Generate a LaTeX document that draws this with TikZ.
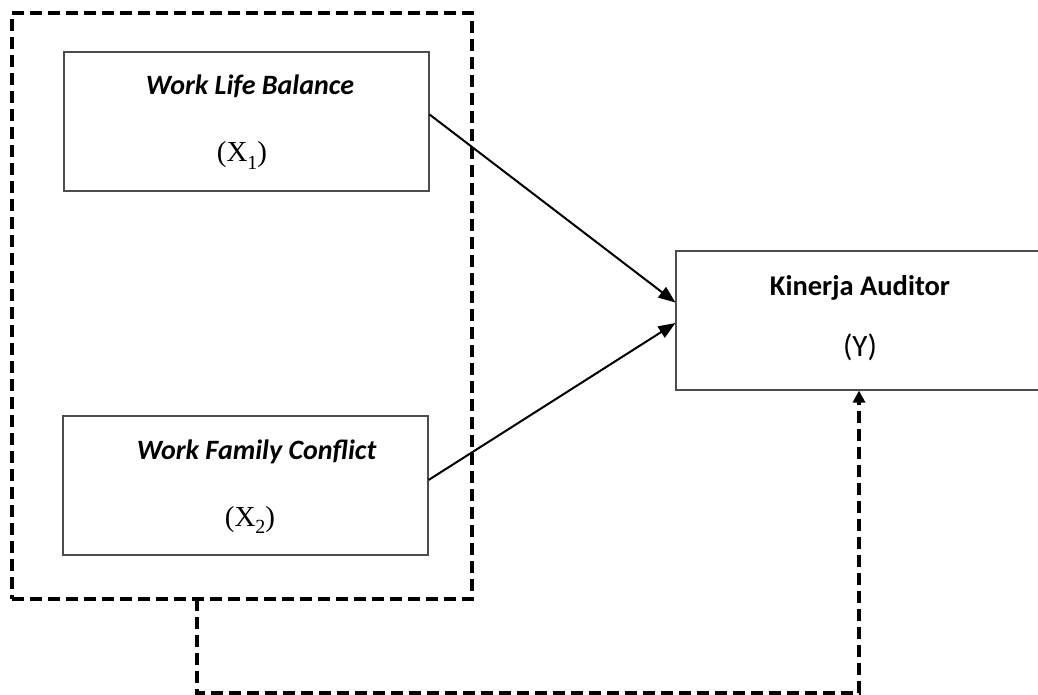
\documentclass[tikz,border=0pt]{standalone}
\usepackage{fontspec}
\setmainfont{Carlito}
\newfontfamily\lmroman{Liberation Serif}
\usetikzlibrary{arrows.meta,calc}
\newcommand{\varlabel}[1]{{\lmroman (X\raisebox{-0.25em}{\fontsize{20}{24}\selectfont #1})}}
\begin{document}
\begin{tikzpicture}[x=1pt,y=-1pt,
  varbox/.style={draw=black!70,line width=1.1pt,rectangle,inner sep=0pt},
  dashline/.style={line width=3.2pt,dash pattern=on 12pt off 6pt},
  solidarrow/.style={line width=2pt,-{Triangle[length=17pt,width=13pt]}},
  dasharrow/.style={dashline,-{Triangle[length=12pt,width=12pt]}},
  lbl/.style={anchor=base,inner sep=0pt,font=\fontsize{28}{32}\selectfont\bfseries\itshape},
  lblb/.style={anchor=base,inner sep=0pt,font=\fontsize{28.5}{32}\selectfont\bfseries},
  lblm/.style={anchor=base,inner sep=0pt,font=\fontsize{29}{34}\selectfont},
  lbly/.style={anchor=base,inner sep=0pt,font=\fontsize{31}{36}\selectfont}]
\useasboundingbox (0,0) rectangle (1038,695);
% outer dashed group
\node[draw,dashline,rectangle,inner sep=0pt,minimum width=460pt,minimum height=586pt] (outer) at (242,306) {};
% boxes
\node[varbox,minimum width=365pt,minimum height=139pt] (x1) at (246.5,121.5) {};
\node[varbox,minimum width=365pt,minimum height=139pt] (x2) at (245.5,485.5) {};
\node[varbox,minimum width=366pt,minimum height=139pt] (y) at (859,320.5) {};
% texts
\node[lbl] (t1) at (250,95) {Work Life Balance};
\node[lblm] (m1) at (242,162) {\varlabel{1}};
\node[lbl] (t2) at (256.5,459) {Work Family Conflict};
\node[lblm] (m2) at (250,526) {\varlabel{2}};
\node[lblb] (t3) at (860,295) {Kinerja Auditor};
\node[lbly] (m3) at (860,356) {(Y)};
% arrows
\draw[solidarrow] ([yshift=7pt]x1.east) -- ([yshift=18pt]y.west);
\draw[solidarrow] ([yshift=5.5pt]x2.east) -- ([yshift=-2.5pt]y.west);
% dashed feedback connector
\coordinate (d1) at (197,599);
\coordinate (d2) at (197,693);
\draw[dasharrow] (d1) -- (d2) -| (y.south);
\end{tikzpicture}
\end{document}
